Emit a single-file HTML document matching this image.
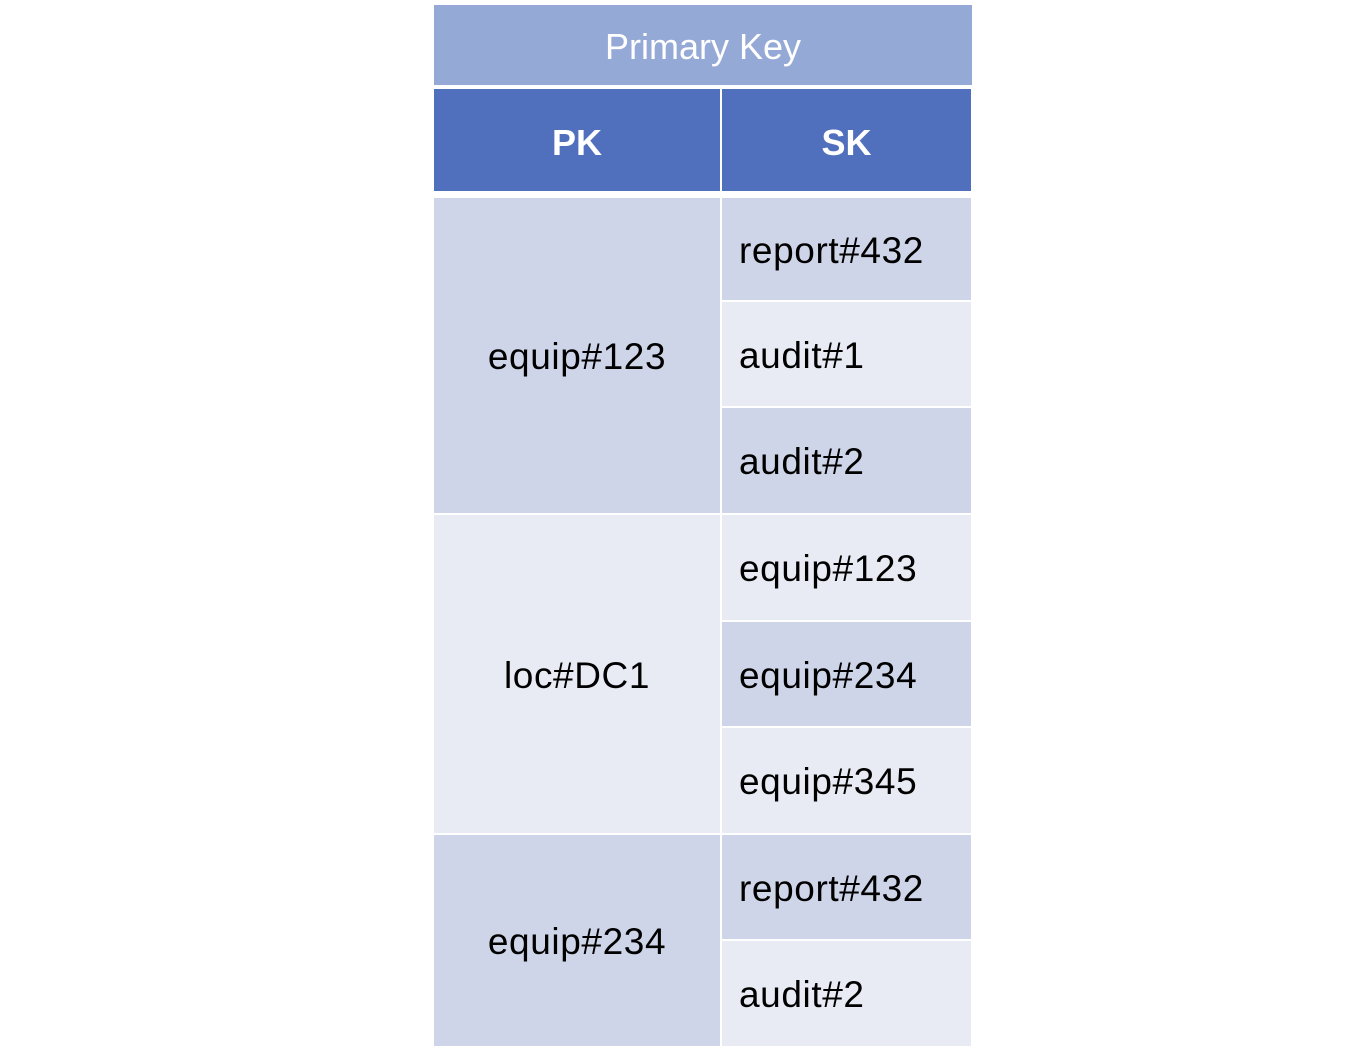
<!DOCTYPE html>
<html><head><style>
body{margin:0;width:1372px;height:1054px;background:#fff;position:relative;font-family:"Liberation Sans",sans-serif;overflow:hidden}
div{position:absolute;box-sizing:border-box;display:flex;align-items:center}
.t{background:#95A9D7;color:#fff;font-size:36px;justify-content:center;padding-top:4px}
.h{background:#5070BE;color:#fff;font-size:36px;font-weight:bold;justify-content:center;padding-top:6px}
.d{background:#CFD5E8}
.l{background:#E8EBF4}
.pk{font-size:37px;letter-spacing:0.6px;justify-content:center;color:#000;padding-top:3px}
.sk{font-size:37px;letter-spacing:0.6px;padding-left:17px;color:#000;padding-top:3px}
</style></head><body>
<div class="t" style="left:434px;top:5px;width:538px;height:80px">Primary Key</div>
<div class="h" style="left:434px;top:89px;width:286px;height:102px">PK</div>
<div class="h" style="left:722px;top:89px;width:249px;height:102px">SK</div>

<div class="d pk" style="left:434px;top:198px;width:286px;height:315px">equip#123</div>
<div class="l pk" style="left:434px;top:515px;width:286px;height:318px">loc#DC1</div>
<div class="d pk" style="left:434px;top:835px;width:286px;height:211px">equip#234</div>

<div class="d sk" style="left:722px;top:198px;width:249px;height:102px">report#432</div>
<div class="l sk" style="left:722px;top:302px;width:249px;height:104px">audit#1</div>
<div class="d sk" style="left:722px;top:408px;width:249px;height:105px">audit#2</div>
<div class="l sk" style="left:722px;top:515px;width:249px;height:105px">equip#123</div>
<div class="d sk" style="left:722px;top:622px;width:249px;height:104px">equip#234</div>
<div class="l sk" style="left:722px;top:728px;width:249px;height:105px">equip#345</div>
<div class="d sk" style="left:722px;top:835px;width:249px;height:104px">report#432</div>
<div class="l sk" style="left:722px;top:941px;width:249px;height:105px">audit#2</div>
</body></html>
